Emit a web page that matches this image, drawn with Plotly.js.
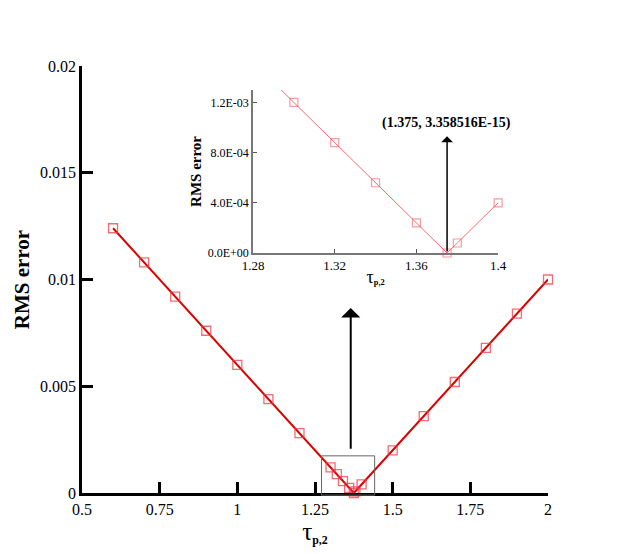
<!DOCTYPE html>
<html>
<head>
<meta charset="utf-8">
<script src="https://cdn.plot.ly/plotly-3.0.1.min.js"></script>
<style>
  body { margin: 0; background: #fff; }
  #plot { width: 623px; height: 554px; }
</style>
</head>
<body>
<div id="plot"></div>
<script>
// tau_p,2 values and RMS error
let tau = [0.6, 0.7, 0.8, 0.9, 1.0, 1.1, 1.2, 1.3, 1.32, 1.34, 1.36, 1.375, 1.38, 1.4,
           1.5, 1.6, 1.7, 1.8, 1.9, 2.0];
let rms = [0.0124, 0.0108, 0.0092, 0.0076, 0.006, 0.0044, 0.0028, 0.0012, 0.00088, 0.00056,
           0.00024, 3.358516e-15, 0.00008, 0.0004,
           0.002, 0.0036, 0.0052, 0.0068, 0.0084, 0.01];

let mainXTicks = [0.5, 0.75, 1, 1.25, 1.5, 1.75, 2];
let mainYTicks = [0, 0.005, 0.01, 0.015, 0.02];
let mainYText = ['0', '0.005', '0.01', '0.015', '0.02'];
let insetXTicks = [1.28, 1.32, 1.36, 1.4];
let insetYTicks = [0, 0.0004, 0.0008, 0.0012];
let insetYText = ['0.0E+00', '4.0E-04', '8.0E-04', '1.2E-03'];

let serif = 'Liberation Serif, Times New Roman, serif';

let mainTrace = {
    x: tau,
    y: rms,
    mode: 'lines+markers',
    line: {color: '#dd0000', width: 2},
    marker: {symbol: 'square-open', size: 9, color: 'rgba(235,60,70,0.75)', line: {width: 1.3}},
    xaxis: 'x', yaxis: 'y',
    cliponaxis: false,
    showlegend: false
};

let insetTrace = {
    x: tau,
    y: rms,
    mode: 'lines+markers',
    line: {color: 'rgba(240,60,60,0.75)', width: 1},
    marker: {symbol: 'square-open', size: 8, color: 'rgba(240,90,100,0.6)', line: {width: 1.2}},
    xaxis: 'x2', yaxis: 'y2',
    cliponaxis: false,
    showlegend: false
};

let layout = {
    width: 623,
    height: 554,
    margin: {l: 82, r: 75, t: 66, b: 61},
    paper_bgcolor: '#fff',
    plot_bgcolor: 'rgba(0,0,0,0)',
    font: {family: serif, color: '#000'},
    xaxis: {
        range: [0.5, 2], tickvals: mainXTicks, ticktext: mainXTicks.map(String),
        ticks: 'inside', ticklen: 11, tickwidth: 2.5, tickcolor: '#000',
        showline: true, linewidth: 2.5, linecolor: '#000',
        showgrid: false, zeroline: false,
        tickfont: {size: 16, family: serif},
        title: {text: '<span style="font-size:25px">τ</span><sub><b>p,2</b></sub>', font: {size: 17, family: serif}, standoff: 4},
        anchor: 'y', domain: [0, 1]
    },
    yaxis: {
        range: [0, 0.02], tickvals: mainYTicks, ticktext: mainYText,
        ticks: 'inside', ticklen: 11, tickwidth: 2.5, tickcolor: '#000',
        showline: true, linewidth: 2.5, linecolor: '#000',
        showgrid: false, zeroline: false,
        tickfont: {size: 16, family: serif},
        title: {text: '<b>RMS error</b>', font: {size: 21, family: serif}, standoff: 5},
        anchor: 'x', domain: [0, 1]
    },
    xaxis2: {
        range: [1.28, 1.4], tickvals: insetXTicks, ticktext: insetXTicks.map(String),
        ticks: 'inside', ticklen: 4, tickwidth: 1, tickcolor: '#555',
        showline: true, linewidth: 1.5, linecolor: '#777',
        showgrid: false, zeroline: false,
        tickfont: {size: 13, family: serif},
        title: {text: '<span style="font-size:18px">τ</span><sub><b>p,2</b></sub>', font: {size: 12, family: serif}, standoff: 2},
        anchor: 'y2', domain: [0.367, 0.893]
    },
    yaxis2: {
        range: [0, 0.0013], tickvals: insetYTicks, ticktext: insetYText,
        ticks: 'inside', ticklen: 4, tickwidth: 1, tickcolor: '#555',
        showline: true, linewidth: 1.5, linecolor: '#777',
        showgrid: false, zeroline: false,
        tickfont: {size: 12, family: serif},
        title: {text: '<b>RMS error</b>', font: {size: 15, family: serif}, standoff: 3},
        anchor: 'x2', domain: [0.562, 0.944]
    },
    shapes: [{
        type: 'rect', xref: 'x', yref: 'paper',
        x0: 1.271, x1: 1.442, y0: -0.005, y1: 0.087,
        line: {color: '#666', width: 1}
    }],
    annotations: [
        {
            xref: 'x', yref: 'y', axref: 'x', ayref: 'y',
            x: 1.365, y: 0.00867, ax: 1.365, ay: 0.002,
            text: '', showarrow: true,
            arrowhead: 1, arrowsize: 1.6, arrowwidth: 2, arrowcolor: '#000'
        },
        {
            xref: 'x2', yref: 'y2', axref: 'x2', ayref: 'y2',
            x: 1.375, y: 0.00093, ax: 1.375, ay: 0,
            text: '', showarrow: true,
            arrowhead: 1, arrowsize: 1.3, arrowwidth: 1.5, arrowcolor: '#000'
        },
        {
            xref: 'x2', yref: 'y2',
            x: 1.3745, y: 0.00104,
            text: '<b>(1.375, 3.358516E-15)</b>', showarrow: false,
            font: {size: 14, family: serif, color: '#000'}
        }
    ]
};

Plotly.newPlot('plot', [mainTrace, insetTrace], layout, {displayModeBar: false});
</script>
</body>
</html>
